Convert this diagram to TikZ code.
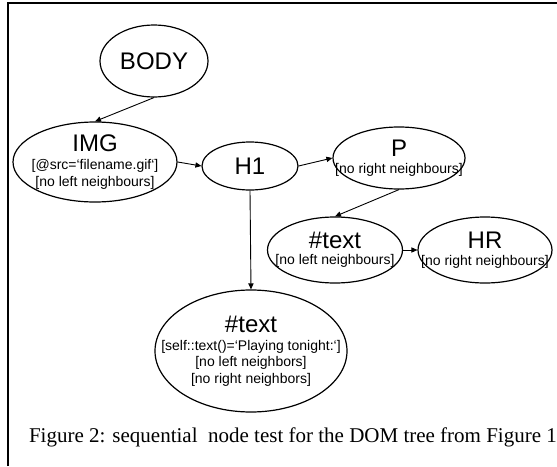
\documentclass[tikz,border=0pt]{standalone}
\usepackage{fontspec}
\setmainfont{Liberation Serif}
\setsansfont{Liberation Sans}
\usetikzlibrary{shapes.geometric,arrows.meta}

\newcommand{\bigname}{\fontsize{12}{12}\selectfont}
\newcommand{\tinytest}{\fontsize{7}{8.2}\selectfont}

\begin{document}
\begin{tikzpicture}[
    x=0.5pt, y=-0.5pt,
    domnode/.style={ellipse, draw, line width=0.6pt, inner sep=-30pt,
                    align=center, font=\sffamily\tinytest},
    seqarrow/.style={-{Triangle[length=3pt,width=2.6pt]}, line width=0.45pt},
]
\useasboundingbox (0,0) rectangle (557,466);
\draw[line width=1.1pt] (8,466) -- (8,3) -- (557,3);

% tree nodes
\node[domnode, minimum width=54pt, minimum height=36pt] (body) at (154,61)
     {\bigname BODY};
\node[domnode, minimum width=82pt, minimum height=40pt] (img) at (95,162)
     {{\bigname IMG}\\[1pt] {[@src=‘filename.gif‘]}\\ {[no left neighbours]}};
\node[domnode, minimum width=48pt, minimum height=24pt] (h1) at (250,166)
     {\bigname H1};
\node[domnode, minimum width=66pt, minimum height=31pt] (p) at (399,158)
     {{\bigname P}\\ {[no right neighbours]}};
\node[domnode, minimum width=67.5pt, minimum height=33pt] (txta) at (335,250)
     {{\bigname \#text}\\ {[no left neighbours]}};
\node[domnode, minimum width=67pt, minimum height=33pt] (hr) at (485,250)
     {{\bigname HR}\\ {[no right neighbours]}};
\node[domnode, minimum width=96pt, minimum height=61pt] (txtb) at (251,351)
     {{\bigname \#text}\\[1pt] {[self::text()=‘Playing tonight:‘]}\\
      {[no left neighbors]}\\ {[no right neighbors]}};

% sequential steps
\draw[seqarrow] (body.south) -- (img.north);
\draw[seqarrow] (img.east) -- (h1.west);
\draw[seqarrow] (h1.east) -- (p.west);
\draw[seqarrow] (p.south) -- (txta.north);
\draw[seqarrow] (txta.east) -- (hr.west);
\draw[seqarrow] (h1.south) -- (txtb.north);

\node[font=\fontsize{10.5}{12}\selectfont, anchor=base west] (caption) at (22,442)
     {Figure 2: sequential\ \ node test for the DOM tree from Figure 1};
\end{tikzpicture}
\end{document}
